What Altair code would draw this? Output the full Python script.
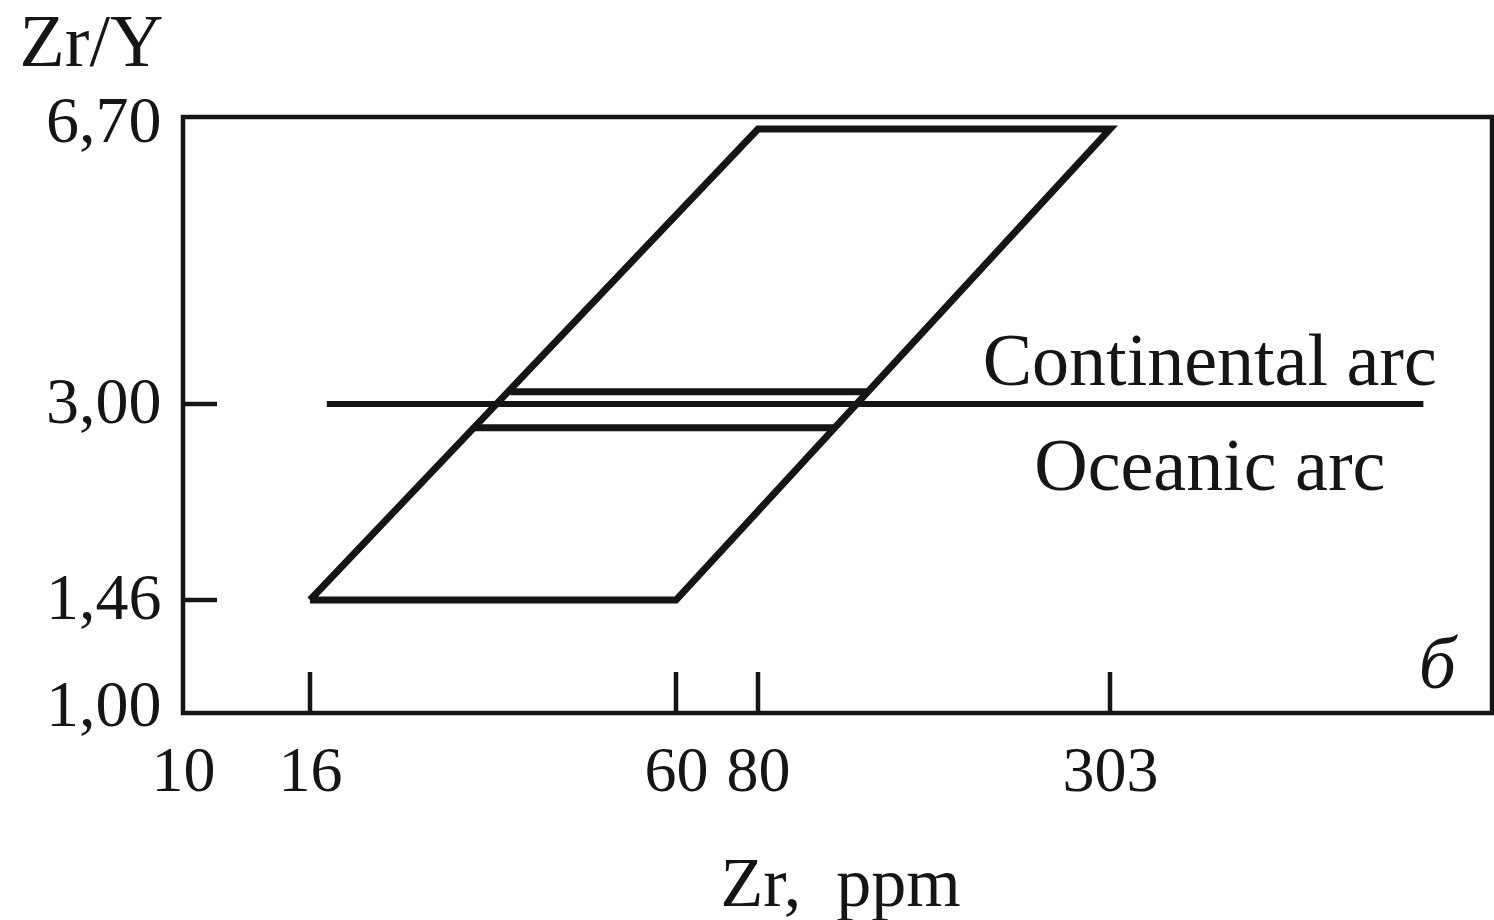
import altair as alt
import pandas as pd

# Axis break points (Zr in ppm, Zr/Y ratio)
zr_ticks = [10, 16, 60, 80, 303]
zry_ticks = [1.00, 1.46, 3.00, 6.70]

# Outer parallelogram spanned by both arc fields, closed ring
outer_zr = [16, 60, 303, 80, 16]
outer_zry = [1.46, 1.46, 6.70, 6.70, 1.46]

# Lower edge of the continental-arc field
cont_edge_zr = [33, 121]
cont_edge_zry = [3.11, 3.11]

# Upper edge of the oceanic-arc field
ocean_edge_zr = [29, 107]
ocean_edge_zry = [2.75, 2.75]

# Zr/Y = 3 boundary between the two arc types
bound_zr = [17, 950]
bound_zry = [3.00, 3.00]

# Field labels
label_text = ["Continental arc", "Oceanic arc"]
label_zr = [436, 436]
label_zry = [3.17, 2.19]
panel_text = ["б"]
panel_zr = [1000]
panel_zry = [1.087]

INK = "#151515"
FONT = "Liberation Serif"
W, H = 1309, 596

rows = []
for name, xs, ys in [("outer", outer_zr, outer_zry),
                     ("cont_edge", cont_edge_zr, cont_edge_zry),
                     ("ocean_edge", ocean_edge_zr, ocean_edge_zry),
                     ("boundary", bound_zr, bound_zry)]:
    for k, (xv, yv) in enumerate(zip(xs, ys)):
        rows.append({"shape": name, "k": k, "zr": xv, "zry": yv})
lines_df = pd.DataFrame(rows)

# The figure uses a non-uniform (schematic) logarithmic spacing of its break points
x_scale = alt.Scale(type="log", domain=[10, 16, 60, 80, 303, 1220],
                    range=[0, 127, 493, 575, 927, W], nice=False, zero=False)
y_scale = alt.Scale(type="log", domain=[1.0, 1.46, 3.0, 6.7, 7.0],
                    range=[H, 483, 287, 12, 0], nice=False, zero=False)

x_axis = alt.Axis(values=zr_ticks, labelExpr="format(datum.value, 'd')",
                  ticks=False, domain=False, grid=False, labelFlush=False,
                  labelOverlap=False, labelFont=FONT, labelFontSize=64,
                  labelColor=INK, labelPadding=26, labelBaseline="top",
                  title="Zr,\u2002ppm", titleFont=FONT, titleFontSize=70,
                  titleFontWeight="normal", titleColor=INK,
                  titleX=657, titleY=192, titleBaseline="alphabetic",
                  titleAlign="center")
y_axis = alt.Axis(values=zry_ticks,
                  labelExpr="replace(format(datum.value, '.2f'), '.', ',')",
                  ticks=False, domain=False, grid=False, labelOverlap=False,
                  labelFont=FONT, labelFontSize=66, labelColor=INK,
                  labelPadding=22, labelFlush=False,
                  labelOffset={"condition": {"test": "datum.value > 6 || datum.value < 1.2",
                                             "value": -8},
                               "value": -2},
                  title="Zr/Y", titleFont=FONT, titleFontSize=74,
                  titleFontWeight="normal", titleColor=INK, titleAngle=0,
                  titleX=-92, titleY=-52, titleAlign="center",
                  titleBaseline="alphabetic")

base = alt.Chart(lines_df)

fields = base.transform_filter(alt.datum.shape != "boundary").mark_line(
    color=INK, strokeWidth=7, strokeJoin="miter", clip=True
).encode(
    x=alt.X("zr:Q", scale=x_scale, axis=x_axis),
    y=alt.Y("zry:Q", scale=y_scale, axis=y_axis),
    detail="shape:N",
    order="k:Q",
)

boundary = base.transform_filter(alt.datum.shape == "boundary").mark_line(
    color=INK, strokeWidth=6, clip=True
).encode(
    x=alt.X("zr:Q", scale=x_scale),
    y=alt.Y("zry:Q", scale=y_scale),
    order="k:Q",
)

# Inward tick marks on both axes
x_tick_df = pd.DataFrame({"zr": zr_ticks[1:]})
x_ticks = alt.Chart(x_tick_df).mark_rule(color=INK, strokeWidth=4.5).encode(
    x=alt.X("zr:Q", scale=x_scale),
    y=alt.value(H - 41),
    y2=alt.value(H),
)
y_tick_df = pd.DataFrame({"zry": zry_ticks[1:3]})
y_ticks = alt.Chart(y_tick_df).mark_rule(color=INK, strokeWidth=4.5).encode(
    y=alt.Y("zry:Q", scale=y_scale),
    x=alt.value(0),
    x2=alt.value(34),
)

labels_df = pd.DataFrame({"text": label_text, "zr": label_zr, "zry": label_zry})
labels = alt.Chart(labels_df).mark_text(
    font=FONT, fontSize=74, color=INK, align="center", baseline="alphabetic"
).encode(
    x=alt.X("zr:Q", scale=x_scale),
    y=alt.Y("zry:Q", scale=y_scale),
    text="text:N",
)

panel_df = pd.DataFrame({"text": panel_text, "zr": panel_zr, "zry": panel_zry})
panel = alt.Chart(panel_df).mark_text(
    font=FONT, fontSize=74, fontStyle="italic", color=INK, align="center",
    baseline="alphabetic"
).encode(
    x=alt.X("zr:Q", scale=x_scale),
    y=alt.Y("zry:Q", scale=y_scale),
    text="text:N",
)

chart = alt.layer(fields, boundary, x_ticks, y_ticks, labels, panel).properties(
    width=W,
    height=H,
    autosize=alt.AutoSizeParams(type="none"),
    padding={"left": 183, "top": 117, "right": 2, "bottom": 207},
    background="white",
).configure_view(
    stroke=INK, strokeWidth=4.5
)

chart.save("out.html", embed_options={"renderer": "svg", "actions": False})
